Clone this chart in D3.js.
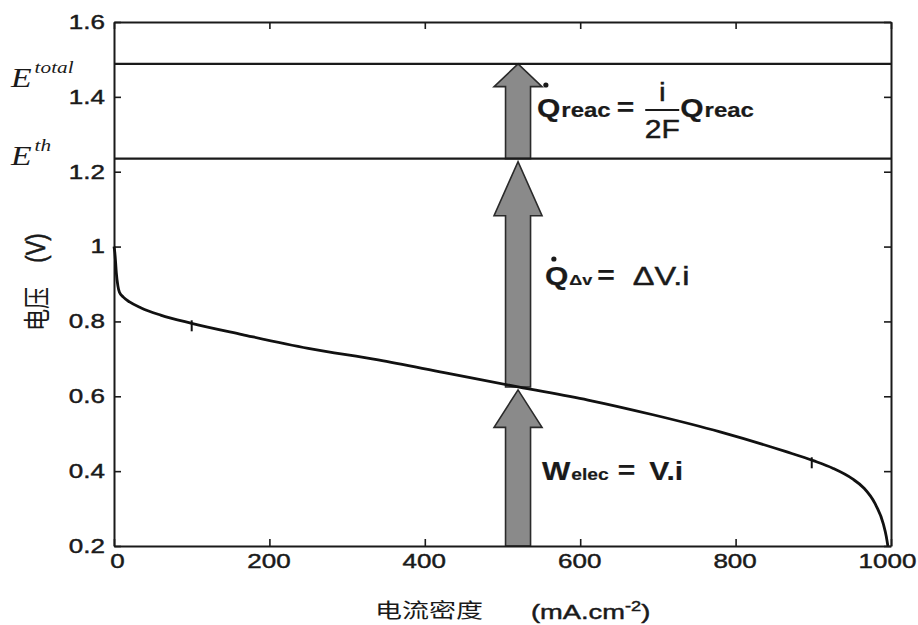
<!DOCTYPE html>
<html>
<head>
<meta charset="utf-8">
<script src="https://cdn.jsdelivr.net/npm/d3@7"></script>
<style>
  html, body { margin: 0; padding: 0; background: #ffffff; }
  svg { display: block; }
</style>
</head>
<body>
<svg id="chart" width="918" height="625"></svg>
<script>
// Polarisation curve of a fuel cell: cell voltage against current density
const currentDensity = [0, 1, 2, 3, 5, 7, 12, 20, 35, 60, 100, 165, 250, 340, 425, 520, 610, 695, 780, 865, 900, 925, 950, 965, 979, 990, 994, 996];
const cellVoltage    = [1.0, 0.985, 0.96, 0.93, 0.895, 0.878, 0.865, 0.852, 0.836, 0.817, 0.795, 0.765, 0.728, 0.697, 0.663, 0.625, 0.590, 0.550, 0.505, 0.452, 0.428, 0.408, 0.380, 0.355, 0.315, 0.26, 0.225, 0.20];

// Small marks sitting on the curve
const markCurrent = [100, 898];
const markVoltage = [0.795, 0.429];

// Reference potentials (thermoneutral and total)
const potentialNames  = ["th", "total"];
const potentialValues = [1.235, 1.488];

// Operating point and the energy arrows stacked above it
const operatingCurrent = 520;
const operatingVoltage = 0.625;
const arrowFrom = [0.2, 0.625, 1.235];
const arrowTo   = [0.625, 1.235, 1.488];

// Axes
const xTicks = [0, 200, 400, 600, 800, 1000];
const xTickLabels = ["0", "200", "400", "600", "800", "1000"];
const yTicks = [0.2, 0.4, 0.6, 0.8, 1.0, 1.2, 1.4, 1.6];
const yTickLabels = ["0.2", "0.4", "0.6", "0.8", "1", "1.2", "1.4", "1.6"];

const svg = d3.select("#chart");
const plot = { left: 114, right: 891, top: 22, bottom: 546 };
const SX = 1.3;           // horizontal stretch applied to the lettering
const ink = "#1a1a1a";
const sans = "'Liberation Sans', Arial, Helvetica, sans-serif";
const cjk = "'Noto Sans CJK SC', 'Noto Sans', sans-serif";
const serif = "'Liberation Serif', 'Times New Roman', serif";

const x = d3.scaleLinear().domain([0, 1000]).range([plot.left, plot.right]);
const y = d3.scaleLinear().domain([0.2, 1.6]).range([plot.bottom, plot.top]);

// Text helper: places a string at (px, py) with a horizontal stretch
function label(parent, px, py, str, o = {}) {
  const g = parent.append("g")
    .attr("transform", `translate(${px},${py}) scale(${o.sx || SX},1)` + (o.rotate ? ` rotate(${o.rotate})` : ""));
  const family = o.family || sans;
  const t = g.append("text")
    .attr("font-family", family)
    .attr("font-size", o.size || 20)
    .attr("font-weight", o.weight || "normal")
    .attr("font-style", o.style || "normal")
    .attr("text-anchor", o.anchor || "start")
    .attr("fill", o.fill || ink)
    .text(str);
  if (family === sans) {
    t.attr("stroke", o.fill || ink).attr("stroke-width", o.weight === "bold" ? 0.2 : 0.45);
  }
  if (o.baseline) t.attr("dominant-baseline", o.baseline);
  return { g, t, width: t.node().getComputedTextLength() * (o.sx || SX) };
}

// ---- energy arrows (drawn first so lines sit on top) ----
const arrowLayer = svg.append("g");
const shaftHalf = 12.5, headHalf = 24;
const ax = x(operatingCurrent);
arrowFrom.forEach((v0, k) => {
  const yBase = y(v0);
  const gap = k === 2 ? 0 : 3;
  const yTip = y(arrowTo[k]) + gap;
  const headLen = 0.24 * (yBase - yTip);
  const yShoulder = yTip + headLen;
  const pts = [
    [ax - shaftHalf, yBase], [ax - shaftHalf, yShoulder], [ax - headHalf, yShoulder],
    [ax, yTip], [ax + headHalf, yShoulder], [ax + shaftHalf, yShoulder], [ax + shaftHalf, yBase]
  ];
  arrowLayer.append("path")
    .attr("d", d3.line()(pts) + "Z")
    .attr("fill", "#8a8a8a")
    .attr("stroke", "#2a2a2a")
    .attr("stroke-width", 1.6)
    .attr("stroke-linejoin", "miter");
});

// ---- potential lines ----
potentialValues.forEach(v => {
  svg.append("line")
    .attr("x1", plot.left).attr("x2", plot.right)
    .attr("y1", y(v)).attr("y2", y(v))
    .attr("stroke", ink).attr("stroke-width", 2.4);
});

// ---- axes (box with inward ticks) ----
function styleAxis(g) {
  g.select(".domain").attr("stroke", ink).attr("stroke-width", 2);
  g.selectAll(".tick line").attr("stroke", ink).attr("stroke-width", 1.6);
}
const gLeft = svg.append("g").attr("transform", `translate(${plot.left},0)`)
  .call(d3.axisLeft(y).tickValues(yTicks).tickFormat((d, i) => yTickLabels[i])
    .tickSizeInner(-7).tickSizeOuter(0).tickPadding(9));
const gBottom = svg.append("g").attr("transform", `translate(0,${plot.bottom})`)
  .call(d3.axisBottom(x).tickValues(xTicks).tickFormat((d, i) => xTickLabels[i])
    .tickSizeInner(-7).tickSizeOuter(0).tickPadding(8));
const gRight = svg.append("g").attr("transform", `translate(${plot.right},0)`)
  .call(d3.axisRight(y).tickValues(yTicks).tickFormat("").tickSizeInner(-7).tickSizeOuter(0));
const gTop = svg.append("g").attr("transform", `translate(0,${plot.top})`)
  .call(d3.axisTop(x).tickValues(xTicks).tickFormat("").tickSizeInner(-7).tickSizeOuter(0));
[gLeft, gBottom, gRight, gTop].forEach(styleAxis);

gLeft.selectAll(".tick text")
  .attr("x", 0).attr("font-family", sans).attr("font-size", 20).attr("fill", ink)
  .attr("stroke", ink).attr("stroke-width", 0.45)
  .attr("transform", `translate(-9,0) scale(${SX},1)`);
const nX = xTicks.length;
gBottom.selectAll(".tick text")
  .attr("y", 0).attr("font-family", sans).attr("font-size", 20).attr("fill", ink)
  .attr("stroke", ink).attr("stroke-width", 0.45)
  .attr("transform", (d, i) => `translate(${i === 0 ? 3 : (i === nX - 1 ? -4 : -1)},8) scale(${SX},1)`);

// ---- polarisation curve ----
const curveData = currentDensity.map((c, i) => [c, cellVoltage[i]]);
svg.append("path")
  .datum(curveData)
  .attr("d", d3.line().x(d => x(d[0])).y(d => y(d[1])).curve(d3.curveMonotoneX))
  .attr("fill", "none")
  .attr("stroke", "#111")
  .attr("stroke-width", 2.8)
  .attr("stroke-linejoin", "round");

markCurrent.forEach((c, i) => {
  svg.append("line")
    .attr("x1", x(c)).attr("x2", x(c))
    .attr("y1", y(markVoltage[i]) - 3).attr("y2", y(markVoltage[i]) + 8)
    .attr("stroke", "#111").attr("stroke-width", 2);
});

// ---- axis titles ----
label(svg, 35, 309, "电压", { family: cjk, size: 22, anchor: "middle", baseline: "central", rotate: -90, sx: 1.25 });
label(svg, 35, 248, "(V)", { size: 22, anchor: "middle", baseline: "central", rotate: -90, sx: 1.25 });

label(svg, 375, 618, "电流密度", { family: cjk, size: 20, sx: 1.35 });
{
  const g = svg.append("g").attr("transform", `translate(531,619) scale(${SX},1)`);
  const t = g.append("text").attr("font-family", sans).attr("font-size", 21).attr("fill", ink)
    .attr("stroke", ink).attr("stroke-width", 0.45);
  t.append("tspan").text("(mA.cm");
  t.append("tspan").attr("font-size", 14).attr("dy", -8).text("-2");
  t.append("tspan").attr("dy", 8).text(")");
}

// ---- potential labels ----
const eLabelBase = { total: 87, th: 165 };
potentialNames.forEach(n => {
  const e = label(svg, 11, eLabelBase[n], "E", { family: serif, style: "italic", size: 27, sx: 1.25 });
  label(svg, 11 + e.width + 3, eLabelBase[n] - 14, n, { family: serif, style: "italic", size: 17, sx: 1.25 });
});

// ---- energy flow formulas ----
function dotAbove(px, py) {
  svg.append("circle").attr("cx", px).attr("cy", py).attr("r", 2.6).attr("fill", ink);
}
const FS = 25, FSX = 1.2;
const bold = { weight: "bold", size: FS, sx: FSX };

// Q̇reac = i/(2F) Qreac
{
  const base = 117;
  let cx = 537;
  const q = label(svg, cx, base, "Q", bold);
  dotAbove(cx + q.width * 0.38, base - 32);
  cx += q.width + 1;
  const r = label(svg, cx, base, "reac", { weight: "bold", size: 20, sx: FSX });
  cx += r.width + 6;
  const eq = label(svg, cx, base - 1, "=", bold);
  cx += eq.width + 11;
  const fracW = 34, fracC = cx + fracW / 2;
  label(svg, fracC, base - 16, "i", { size: FS, sx: FSX, anchor: "middle" });
  svg.append("line").attr("x1", cx).attr("x2", cx + fracW)
    .attr("y1", base - 7).attr("y2", base - 7).attr("stroke", ink).attr("stroke-width", 2.2);
  label(svg, fracC, base + 21, "2F", { size: FS, sx: FSX, anchor: "middle" });
  cx += fracW + 1;
  const q2 = label(svg, cx, base, "Q", bold);
  cx += q2.width + 1;
  label(svg, cx, base, "reac", { weight: "bold", size: 20, sx: FSX });
}

// Q̇ΔV = ΔV.i
{
  const base = 285;
  let cx = 545;
  const q = label(svg, cx, base, "Q", bold);
  dotAbove(cx + q.width * 0.38, base - 26);
  cx += q.width + 1;
  const s = label(svg, cx, base, "Δv", { weight: "bold", size: 15, sx: FSX });
  cx += s.width + 5;
  const eq = label(svg, cx, base - 1, "=", bold);
  cx += eq.width + 18;
  label(svg, cx, base, "ΔV.i", { size: 26, sx: 1.25 });
}

// Welec = V.i
{
  const base = 480;
  let cx = 542;
  const w = label(svg, cx, base, "W", bold);
  cx += w.width + 1;
  const s = label(svg, cx, base, "elec", { weight: "bold", size: 16, sx: FSX });
  cx += s.width + 9;
  const eq = label(svg, cx, base - 1, "=", bold);
  cx += eq.width + 14;
  label(svg, cx, base, "V.i", bold);
}
</script>
</body>
</html>
